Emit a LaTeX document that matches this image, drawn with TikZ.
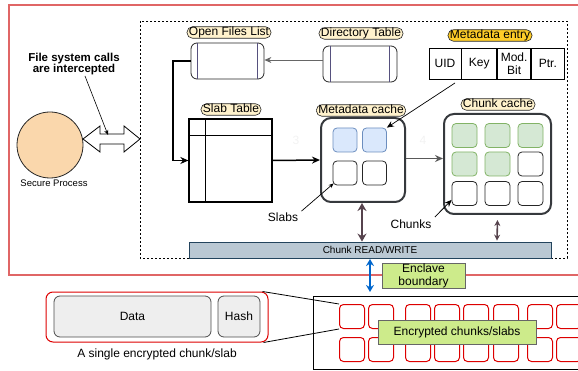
\documentclass[tikz,border=0pt]{standalone}
\usepackage{fontspec}
\setmainfont{Liberation Sans}
\usetikzlibrary{arrows.meta,calc}

\definecolor{pillfill}{HTML}{FFF2CC}
\definecolor{entryfill}{HTML}{FFCD28}
\definecolor{procfill}{HTML}{FAD7AC}
\definecolor{cachegray}{HTML}{36393D}
\definecolor{bluefill}{HTML}{DAE8FC}
\definecolor{blueline}{HTML}{6C8EBF}
\definecolor{greenfill}{HTML}{D5E8D4}
\definecolor{greenline}{HTML}{82B366}
\definecolor{barfill}{HTML}{BAC8D3}
\definecolor{barline}{HTML}{23445D}
\definecolor{limefill}{HTML}{CDEB8B}
\definecolor{enclred}{HTML}{E06666}
\definecolor{encred}{HTML}{DD0000}
\definecolor{rwarrow}{HTML}{56434D}
\definecolor{boundblue}{HTML}{0066CC}
\definecolor{storeline}{HTML}{56517E}
\definecolor{partfill}{HTML}{EEEEEE}

\begin{document}
\begin{tikzpicture}[x=1pt,y=-1pt,
  font=\fontsize{12}{14}\selectfont,
  pill/.style={draw=black!85, fill=pillfill, rounded corners=5.5pt, inner xsep=2pt,
    inner ysep=0pt, text height=9pt, text depth=2.5pt, line width=0.6pt},
  storebox/.style={draw=black!85, fill=white, rounded corners=6pt, line width=0.8pt,
    inner sep=0pt},
  vline/.style={draw=storeline, line width=0.8pt},
  cachebox/.style={draw=cachegray, line width=2pt, rounded corners=10pt, inner sep=0pt},
  slot/.style={draw=black!85, rounded corners=4pt, minimum width=24pt, minimum height=24pt,
    inner sep=0pt, line width=0.8pt},
  slotblue/.style={slot, draw=blueline, fill=bluefill},
  slotgreen/.style={slot, draw=greenline, fill=greenfill},
  cell/.style={draw=black, line width=0.8pt, minimum height=31pt, inner sep=0pt, align=center,
    font=\fontsize{12}{13}\selectfont},
  encslot/.style={draw=encred, rounded corners=4pt, minimum width=25pt, minimum height=24pt,
    inner sep=0pt, line width=1pt},
  limebox/.style={draw=black!60, fill=limefill, line width=0.8pt, inner sep=0pt, align=center,
    font=\fontsize{12}{13}\selectfont},
  part/.style={draw=black!70, fill=partfill, rounded corners=6pt, line width=0.8pt, inner sep=0pt},
  thickarrow/.style={line width=1.5pt, -{Stealth[length=8pt,width=7pt]}},
  thinarrow/.style={line width=0.7pt, -{Stealth[length=7pt,width=6pt]}},
  rw/.style={draw=rwarrow, line width=2.5pt, {Stealth[length=8pt,width=9pt]}-{Stealth[length=8pt,width=9pt]}},
]
\useasboundingbox (0,0) rectangle (578,371);
\clip (0,0) rectangle (578,371);

% enclave outline (runs off the right edge)
\draw[enclred, line width=1.2pt] (590,5) -- (9,5) -- (9,275) -- (590,275);

% file-system region
\draw[line width=0.8pt, dash pattern=on 2pt off 2pt] (140,21) rectangle (567,258);

% secure process
\node[circle, minimum size=66pt, inner sep=0pt, fill=procfill, draw=black!85, line width=0.8pt] (sp) at (50,145) {};
\node[font=\fontsize{9.5}{11}\selectfont] (splabel) at (54,183) {Secure Process};

% interception
\node[font=\bfseries\fontsize{11.5}{11}\selectfont, align=center] (fsc) at (74,64) {File system calls\\are intercepted};
\draw[fill=white, line width=0.8pt] (83,139) -- (100,126) -- (100,134) -- (124,134) -- (124,126)
  -- (140,139) -- (124,152) -- (124,144) -- (100,144) -- (100,152) -- cycle;
\coordinate (fscend) at (108,135);
\coordinate (fscstart) at (85,76);
\draw[line width=0.6pt, -{Stealth[length=5pt,width=4pt]}] (fscstart) -- (fscend);

% open files list and directory table
\node[storebox, minimum width=73pt, minimum height=36pt] (ofl) at (227.5,61) {};
\draw[vline] ($(ofl.north west)+(7,0)$) -- ($(ofl.south west)+(7,0)$);
\draw[vline] ($(ofl.north east)+(-7,0)$) -- ($(ofl.south east)+(-7,0)$);
\node[pill] (ofllabel) at (229,32.5) {Open Files List};

\node[storebox, minimum width=74pt, minimum height=36pt] (dir) at (360,64) {};
\draw[vline] ($(dir.north west)+(8,0)$) -- ($(dir.south west)+(8,0)$);
\draw[vline] ($(dir.north east)+(-8,0)$) -- ($(dir.south east)+(-8,0)$);
\node[pill] (dirlabel) at (361,33.5) {Directory Table};

\draw[draw=black!60, line width=0.7pt, -{Stealth[length=7pt,width=6pt]}] (dir.west |- 0,60) -- (ofl.east |- 0,60);

% slab table
\node[draw=black, line width=1.3pt, minimum width=83pt, minimum height=83pt, inner sep=0pt] (slab) at (230.5,160.5) {};
\draw[line width=1.3pt] ($(slab.north west)+(17,0)$) -- ($(slab.south west)+(17,0)$);
\draw[line width=1.3pt] ($(slab.north west)+(0,17)$) -- ($(slab.north east)+(0,17)$);
\node[pill] (slablabel) at (231,109.5) {Slab Table};

\draw[thickarrow] (ofl.west) -- (173,61) |- (slab.west);

% metadata cache
\node[cachebox, minimum width=84pt, minimum height=84pt] (mc) at (363,160) {};
\node[slotblue] (m1) at (345,140) {};
\node[slotblue] (m2) at (374.5,140) {};
\node[slot] (m3) at (345,173) {};
\node[slot] (m4) at (374.5,173) {};
\node[pill] (mclabel) at (361,110.5) {Metadata cache};

\draw[thickarrow] (slab.east) -- (mc.west);

% metadata entry
\node[pill, fill=entryfill] (melabel) at (490,35.5) {Metadata entry};
\node[cell, minimum width=32pt] (uid) at (445,63.5) {UID};
\node[cell, minimum width=35pt, anchor=west] (key) at (uid.east) {Key};
\node[cell, minimum width=33pt, anchor=west] (mod) at (key.east) {Mod.\\Bit};
\node[cell, minimum width=33pt, anchor=west] (ptr) at (mod.east) {Ptr.};
\coordinate (mestart) at (455,83);
\draw[thinarrow] (mestart) -- (m2.north east);

% chunk cache
\node[cachebox, minimum width=107pt, minimum height=100pt] (cc) at (497.5,164) {};
\node[slotgreen, minimum width=25pt] (c11) at (464.5,135.5) {};
\node[slotgreen, minimum width=25pt] (c12) at (497.5,135.5) {};
\node[slotgreen, minimum width=25pt] (c13) at (530.5,135.5) {};
\node[slotgreen, minimum width=25pt] (c21) at (464.5,164) {};
\node[slotgreen, minimum width=25pt] (c22) at (497.5,164) {};
\node[slot, minimum width=25pt] (c23) at (530.5,164) {};
\node[slot, minimum width=25pt] (c31) at (464.5,193.5) {};
\node[slot, minimum width=25pt] (c32) at (497.5,193.5) {};
\node[slot, minimum width=25pt] (c33) at (530.5,193.5) {};
\node[pill] (cclabel) at (498,104.5) {Chunk cache};

\draw[draw=black!65, line width=1.2pt, -{Stealth[length=8pt,width=7pt]}] (mc.east |- 0,158.5) -- (cc.west |- 0,158.5);

% faint step numbers
\node[text=black!5] (n3) at (296,140) {3};
\node[text=black!5] (n4) at (423,140) {4};

% slab / chunk pointers
\node (slabs) at (283,217) {Slabs};
\draw[line width=0.7pt, -{Stealth[length=5pt,width=4pt]}] (slabs.north east) ++(0,2) -- ($(m3.south west)+(1,-2)$);
\node (chunks) at (411,224) {Chunks};
\draw[thinarrow, line width=0.8pt] (chunks.north east) ++(0,1) -- ($(c31.south west)+(0,-6)$);

% chunk read/write bar
\node[draw=barline, fill=barfill, line width=0.8pt, minimum width=362pt, minimum height=16pt,
  inner sep=0pt, font=\fontsize{10}{12}\selectfont] (bar) at (370,250) {Chunk READ/WRITE};
\draw[rw] (mc.south -| 362,0) -- (bar.north -| 362,0);
\draw[rw, line width=1.6pt, {Stealth[length=6pt,width=6pt]}-{Stealth[length=6pt,width=6pt]}]
  ($(cc.south)+(0,5)$) -- ($(bar.north)+(127,-1)$);

% enclave boundary
\coordinate (bt) at (370,259);
\coordinate (bb) at (370,292);
\draw[boundblue, line width=2pt, {Stealth[length=7pt,width=8pt]}-{Stealth[length=7pt,width=8pt]}] (bt) -- (bb);
\node[limebox, minimum width=83pt, minimum height=25pt] (eb) at (423.5,275.5) {Enclave\\boundary};

% encrypted storage
\draw[line width=0.8pt] (313,296) rectangle (600,369);
\foreach \cx [count=\i] in {339,368,405,434,463,493,527,556}{
  \node[encslot, anchor=north west] (r1\i) at (\cx,304) {};
  \node[encslot, anchor=north west] (r2\i) at (\cx,337) {};
}
\node[limebox, minimum width=158pt, minimum height=24pt] (encl) at (457,332) {Encrypted chunks/slabs};

% a single chunk
\node[draw=encred, line width=1pt, rounded corners=7pt, minimum width=222pt, minimum height=50pt,
  inner sep=0pt] (single) at (157,317) {};
\node[part, minimum width=157pt, minimum height=41pt] (data) at (132.5,316.5) {Data};
\node[part, minimum width=42pt, minimum height=41pt] (hash) at (239,316.5) {Hash};
\node (caption) at (157,354) {A single encrypted chunk/slab};
\draw[line width=0.8pt] ($(single.north east)+(-6,0)$) -- (r11.north west);
\draw[line width=0.8pt] ($(single.south east)+(-5,0)$) -- (r11.south west);
\end{tikzpicture}
\end{document}
